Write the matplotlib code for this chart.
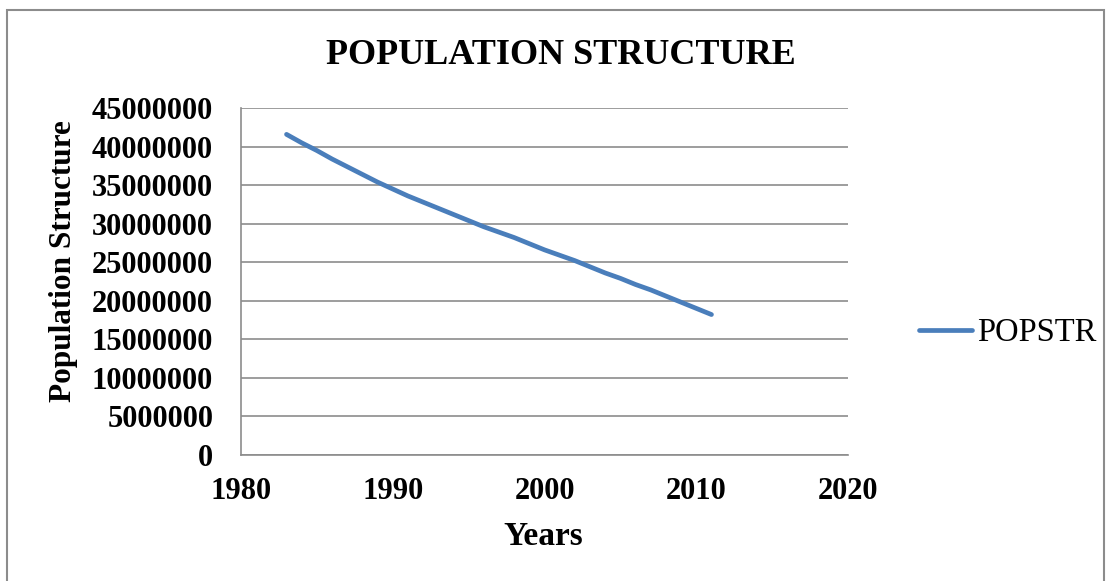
import matplotlib.pyplot as plt
from matplotlib.patches import Rectangle

# Данные
years = list(range(1983, 2012))
popstr = [41.6, 40.5, 39.5, 38.4, 37.4, 36.4, 35.4, 34.5, 33.6, 32.8,
          32.0, 31.2, 30.4, 29.6, 28.9, 28.2, 27.4, 26.6, 25.9, 25.2,
          24.4, 23.6, 22.9, 22.1, 21.4, 20.6, 19.8, 19.0, 18.2]
popstr = [v * 1e6 for v in popstr]

x_ticks = [1980, 1990, 2000, 2010, 2020]
y_ticks = list(range(0, 45000001, 5000000))

plt.rcParams['font.family'] = ['Liberation Serif', 'DejaVu Serif']

fig = plt.figure(figsize=(11.09, 5.81), dpi=100)
ax = fig.add_axes([0.2173, 0.2174, 0.5474, 0.5964])

ax.plot(years, popstr, color='#4A7EBB', linewidth=3.4, solid_capstyle='round', label='POPSTR')

ax.set_xlim(1980, 2020)
ax.set_ylim(0, 45000000)
ax.set_xticks(x_ticks)
ax.set_yticks(y_ticks)
ax.set_xticklabels([str(t) for t in x_ticks], fontsize=22, fontweight='bold')
ax.set_yticklabels([str(t) for t in y_ticks], fontsize=22, fontweight='bold')
ax.tick_params(axis='both', length=0)
ax.tick_params(axis='y', pad=20)
ax.tick_params(axis='x', pad=16)

ax.grid(axis='y', color='#8c8c8c', linewidth=1.2)
ax.set_axisbelow(True)
for s in ['top', 'right']:
    ax.spines[s].set_visible(False)
for s in ['left', 'bottom']:
    ax.spines[s].set_color('#8c8c8c')
    ax.spines[s].set_linewidth(1.2)

# Подписи осей и заголовок
fig.text(0.490, 0.077, 'Years', fontsize=24, fontweight='bold', ha='center', va='center')
fig.text(0.057, 0.55, 'Population Structure', fontsize=22.5, fontweight='bold',
         rotation=90, ha='center', va='center')
fig.text(0.506, 0.905, 'POPULATION STRUCTURE', fontsize=26, fontweight='bold',
         ha='center', va='center')

leg = ax.legend(loc='center left', bbox_to_anchor=(1.117, 0.351), frameon=False,
                fontsize=23.5, handlelength=1.63, handletextpad=0.15,
                borderpad=0, borderaxespad=0)

fig.patches.append(Rectangle((0.0066, -0.05), 0.989, 1.033, transform=fig.transFigure,
                             fill=False, edgecolor='#8c8c8c', linewidth=1.5))

fig.savefig('out.png', dpi=100)
